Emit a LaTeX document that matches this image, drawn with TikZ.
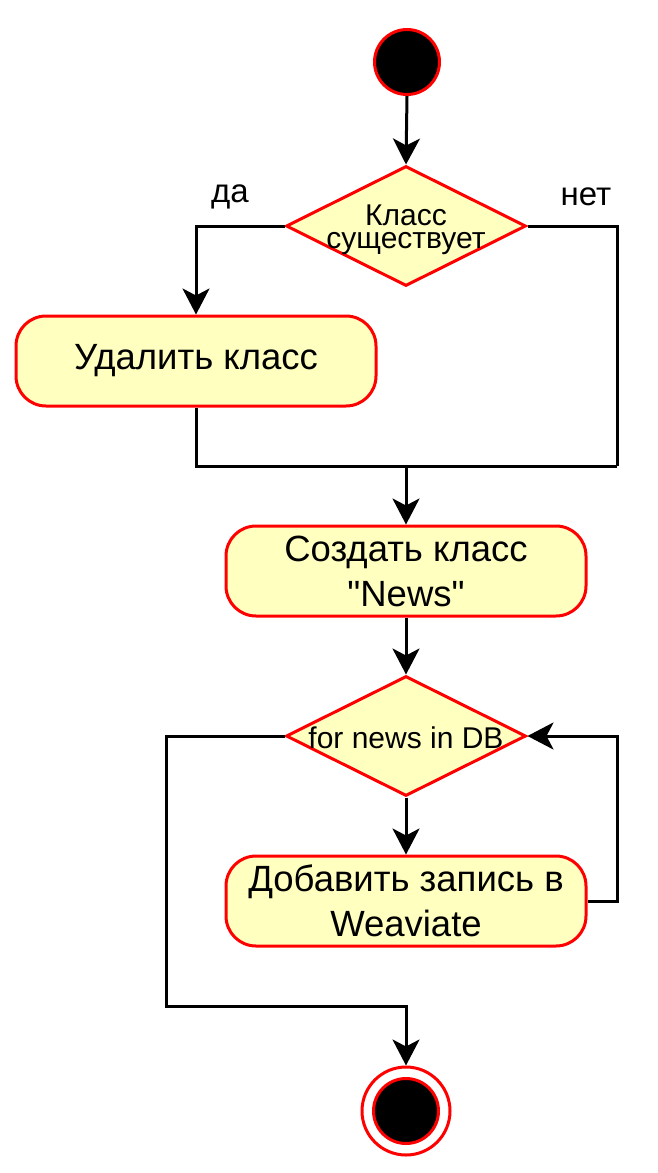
\documentclass[tikz,border=0pt]{standalone}
\usepackage{fontspec}
\setmainfont{Liberation Sans}[Ligatures=TeXOff]
\usetikzlibrary{shapes.geometric,arrows.meta}
\definecolor{boxfill}{HTML}{FFFFC0}
\tikzset{
  every picture/.style={x=1pt,y=-1pt},
  arr/.style={line width=3pt,-{Stealth[length=26pt,width=27pt,inset=7pt]}},
  ln/.style={line width=3pt},
  actbox/.style={draw=red,fill=boxfill,line width=3pt,rounded corners=30pt,
    minimum width=360pt,minimum height=90pt,align=center,
    font=\fontsize{36.5}{45}\selectfont,inner sep=0pt},
  decbox/.style={draw=red,fill=boxfill,line width=3pt,diamond,
    minimum width=240pt,minimum height=120pt,inner sep=0pt},
  dectext/.style={align=center,font=\fontsize{30}{23}\selectfont,inner sep=0pt},
  lbl/.style={font=\fontsize{33}{35}\selectfont,inner sep=0pt},
}
\begin{document}
\begin{tikzpicture}
\useasboundingbox (0,0) rectangle (657,1173);
\node[circle,draw=red,fill=black,line width=3pt,minimum size=65pt,inner sep=0pt] (start) at (407,62) {};
\node[decbox] (d1) at (406,226) {};
\node[dectext] (d1t) at (406,230) {Класс\\существует};
\node[actbox] (b1) at (196,361) {Удалить класс};
\node[actbox] (b2) at (406,571) {Создать класс\\"News"};
\node[decbox] (d2) at (406,736) {};
\node[dectext] (d2t) at (406,738) {for news in DB};
\node[actbox] (b3) at (406,901) {Добавить запись в\\Weaviate};
\node[circle,draw=red,fill=white,line width=3pt,minimum size=88pt,inner sep=0pt] (endo) at (406,1111) {};
\node[circle,draw=red,fill=black,line width=3pt,minimum size=65pt,inner sep=0pt] (endi) at (406,1111) {};
\node[lbl] (yes) at (230,197) {да};
\node[lbl] (no) at (586,197) {нет};

\coordinate (mR) at (617,466);
\coordinate (mid) at (406,466);
\coordinate (loopR) at (617,901);
\coordinate (eL) at (166,1006);
\coordinate (eR) at (406,1006);

\draw[arr] (start.south) -- (d1.north);
\draw[arr] (d1.west) -| (b1.north);
\draw[ln] (d1.east) -| (mR);
\draw[ln] (b1.south) |- (mR);
\draw[arr] (mid) -- (b2.north);
\draw[arr] (b2.south) -- (d2.north);
\draw[arr] (d2.south) -- (b3.north);
\draw[arr] (b3.east) -- (loopR) |- (d2.east);
\draw[arr] (d2.west) -| (eL) -- (eR) -- (endo.north);
\end{tikzpicture}
\end{document}
